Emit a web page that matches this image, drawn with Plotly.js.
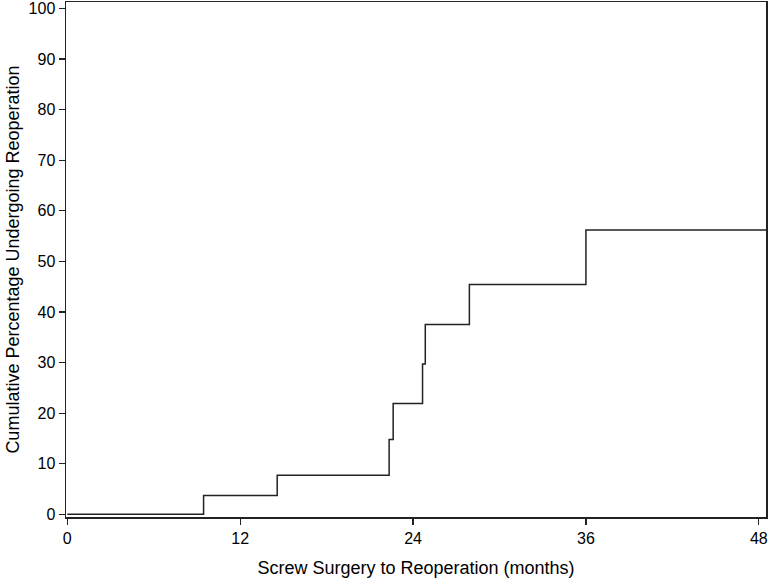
<!DOCTYPE html>
<html>
<head>
<meta charset="utf-8">
<script src="https://cdn.plot.ly/plotly-3.0.1.min.js"></script>
<style>html,body{margin:0;padding:0;background:#fff;}#chart{width:768px;height:578px;}</style>
</head>
<body>
<div id="chart"></div>
<script>
const months = [0, 9.46, 14.57, 22.34, 22.62, 24.66, 24.85, 27.91, 36.0, 48.6];
const cumulativePct = [0, 3.7, 7.7, 14.8, 21.9, 29.7, 37.5, 45.4, 56.2, 56.2];
const xTicks = [0, 12, 24, 36, 48];
const yTicks = [0, 10, 20, 30, 40, 50, 60, 70, 80, 90, 100];

const trace = {
  x: months, y: cumulativePct, type: 'scatter', mode: 'lines',
  line: {shape: 'hv', color: '#222', width: 1.5},
  hoverinfo: 'skip'
};
const font = {family: 'Liberation Sans, Arial, sans-serif', color: '#000', size: 15};
const layout = {
  width: 768, height: 578,
  margin: {l: 66, r: 2, t: 2, b: 61},
  paper_bgcolor: '#fff', plot_bgcolor: '#fff',
  showlegend: false,
  font: font,
  xaxis: {
    range: [-0.09, 48.5], tickvals: xTicks, ticktext: xTicks.map(String),
    ticks: 'outside', ticklen: 6, tickwidth: 1.2, tickcolor: '#222',
    showline: true, linecolor: '#222', linewidth: 1.5, mirror: true,
    showgrid: false, zeroline: false, tickfont: {size: 16},
    ticklabeloverflow: 'allow', automargin: false,
    title: {text: 'Screw Surgery to Reoperation (months)', font: {size: 18}, standoff: 16}
  },
  yaxis: {
    range: [-0.53, 101.25], tickvals: yTicks, ticktext: yTicks.map(String),
    ticks: 'outside', ticklen: 6, tickwidth: 1.2, tickcolor: '#222',
    showline: true, linecolor: '#222', linewidth: 1.5, mirror: true,
    showgrid: false, zeroline: false, tickfont: {size: 16},
    ticklabeloverflow: 'allow', automargin: false,
    title: {text: 'Cumulative Percentage Undergoing Reoperation', font: {size: 18}, standoff: 4}
  }
};
Plotly.newPlot('chart', [trace], layout, {staticPlot: true, displayModeBar: false});
</script>
</body>
</html>
